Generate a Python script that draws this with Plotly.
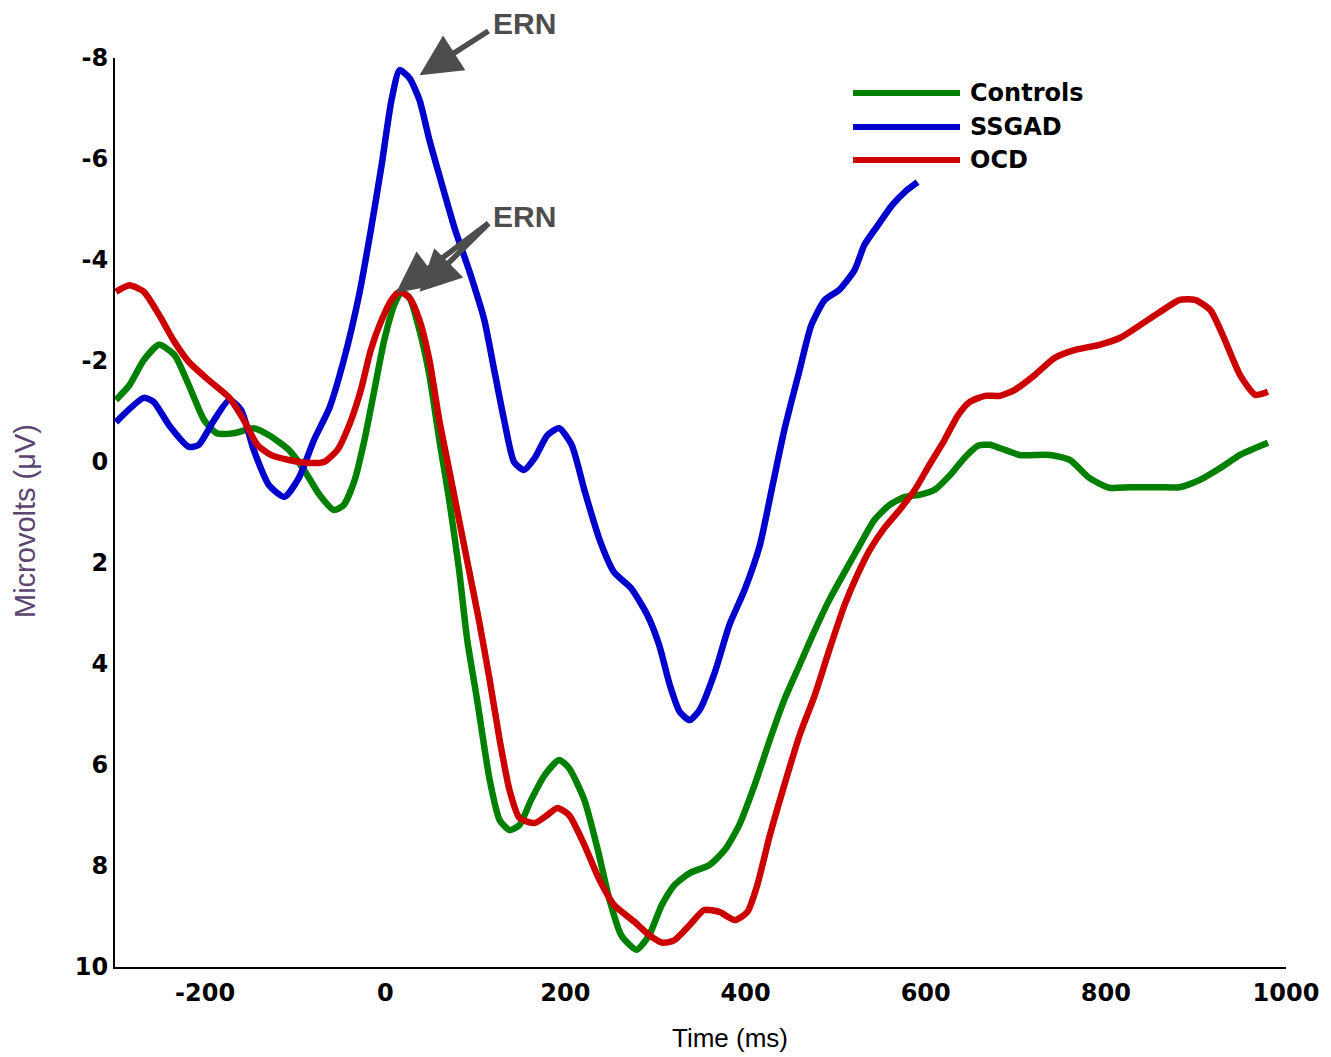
import plotly.graph_objects as go

# ---- data ----
series_names = ["Controls", "SSGAD", "OCD"]
series_colors = ["#008000", "#0000CC", "#CC0000"]

controls_t = [-299, -284, -268, -251, -234, -218, -201, -187, -168, -146, -129, -107, -90, -73, -57, -46, -34, -23, -12, -1, 10, 18, 27, 38, 49, 60, 71, 82, 91, 102, 116, 127, 138, 149, 162, 177, 193, 204, 221, 236, 249, 262, 279, 293, 307, 321, 338, 360, 377, 393, 410, 427, 443, 460, 477, 493, 510, 527, 543, 560, 577, 593, 610, 627, 643, 658, 671, 688, 704, 738, 760, 782, 804, 827, 860, 882, 904, 927, 949, 980]
controls_v = [-1.23, -1.52, -2.02, -2.32, -2.12, -1.52, -0.83, -0.57, -0.57, -0.67, -0.53, -0.24, 0.16, 0.65, 0.95, 0.85, 0.36, -0.44, -1.43, -2.42, -3.11, -3.37, -3.25, -2.61, -1.72, -0.44, 0.75, 2.14, 3.52, 4.71, 6.30, 7.09, 7.29, 7.19, 6.69, 6.20, 5.90, 6.06, 6.69, 7.68, 8.67, 9.37, 9.66, 9.37, 8.77, 8.38, 8.14, 7.98, 7.68, 7.19, 6.40, 5.50, 4.71, 4.02, 3.33, 2.73, 2.18, 1.64, 1.15, 0.85, 0.69, 0.65, 0.55, 0.26, -0.08, -0.32, -0.34, -0.24, -0.14, -0.14, -0.04, 0.32, 0.51, 0.50, 0.50, 0.50, 0.36, 0.12, -0.14, -0.38]

ssgad_t = [-299, -268, -257, -240, -218, -207, -190, -173, -160, -146, -129, -112, -96, -79, -62, -46, -29, -16, -4, 7, 16, 27, 38, 49, 60, 77, 93, 110, 121, 132, 143, 154, 166, 180, 193, 207, 221, 238, 254, 273, 291, 304, 316, 327, 338, 349, 366, 382, 399, 416, 429, 443, 460, 473, 488, 504, 521, 532, 547, 563, 577, 591]
ssgad_v = [-0.79, -1.27, -1.19, -0.73, -0.30, -0.34, -0.83, -1.23, -1.03, -0.24, 0.46, 0.69, 0.32, -0.44, -1.07, -2.02, -3.31, -4.59, -5.88, -7.17, -7.76, -7.60, -7.17, -6.38, -5.68, -4.63, -3.80, -2.81, -1.82, -0.83, 0.00, 0.16, -0.08, -0.53, -0.67, -0.34, 0.55, 1.54, 2.18, 2.50, 3.03, 3.62, 4.42, 4.95, 5.11, 4.91, 4.16, 3.23, 2.53, 1.64, 0.55, -0.63, -1.82, -2.71, -3.21, -3.41, -3.80, -4.30, -4.69, -5.09, -5.35, -5.54]

ocd_t = [-299, -284, -268, -251, -234, -218, -196, -173, -157, -142, -127, -107, -84, -68, -53, -40, -27, -16, -4, 7, 16, 27, 38, 49, 60, 71, 82, 93, 104, 116, 127, 138, 149, 166, 180, 191, 204, 221, 238, 254, 277, 293, 308, 321, 338, 354, 371, 388, 402, 413, 427, 443, 460, 477, 493, 510, 524, 538, 554, 571, 588, 604, 621, 636, 649, 666, 682, 699, 721, 743, 766, 793, 816, 838, 860, 882, 899, 916, 932, 949, 966, 980]
ocd_v = [-3.37, -3.50, -3.37, -2.91, -2.38, -1.98, -1.62, -1.27, -0.83, -0.34, -0.14, -0.04, 0.02, 0.00, -0.24, -0.73, -1.43, -2.22, -2.81, -3.21, -3.37, -3.25, -2.81, -2.02, -0.83, 0.16, 1.15, 2.14, 3.13, 4.32, 5.50, 6.50, 7.05, 7.15, 6.99, 6.85, 6.99, 7.58, 8.28, 8.77, 9.11, 9.37, 9.52, 9.47, 9.17, 8.87, 8.91, 9.07, 8.91, 8.38, 7.39, 6.40, 5.41, 4.61, 3.72, 2.83, 2.24, 1.74, 1.31, 0.95, 0.55, 0.06, -0.44, -0.93, -1.19, -1.31, -1.31, -1.43, -1.72, -2.06, -2.22, -2.32, -2.46, -2.71, -2.97, -3.21, -3.21, -3.01, -2.42, -1.72, -1.33, -1.39]

x_ticks = [-200, 0, 200, 400, 600, 800, 1000]
y_ticks = [-8, -6, -4, -2, 0, 2, 4, 6, 8, 10]

# ERN arrow targets (time, amplitude)
ern_targets = [(38, -7.66), (12, -3.35), (38, -3.37)]

fig = go.Figure()
for name, color, t, v in [
    (series_names[0], series_colors[0], controls_t, controls_v),
    (series_names[1], series_colors[1], ssgad_t, ssgad_v),
    (series_names[2], series_colors[2], ocd_t, ocd_v),
]:
    fig.add_trace(go.Scatter(x=t, y=v, mode="lines", name=name,
                             line=dict(color=color, width=6.5, shape="spline", smoothing=0.6),
                             showlegend=False))

tick_font = dict(family="DejaVu Sans", size=24, color="black", weight="bold")

# page body has an 8px margin: figure is sized/shifted to compensate
fig.update_layout(
    width=1323, height=1049,
    margin=dict(l=107, r=45, t=50, b=90),
    paper_bgcolor="white", plot_bgcolor="white",
    xaxis=dict(range=[-300, 1000], tickvals=x_ticks, ticktext=[str(v) for v in x_ticks],
               showgrid=False, zeroline=False, showline=True, linecolor="black", linewidth=2,
               ticks="", tickfont=tick_font, ticklabelstandoff=3),
    yaxis=dict(range=[10, -8], tickvals=y_ticks, ticktext=[str(v) for v in y_ticks],
               showgrid=False, zeroline=False, showline=True, linecolor="black", linewidth=2,
               ticks="", tickfont=tick_font, ticklabelstandoff=0),
)

# axis titles
fig.add_annotation(text="Time (ms)", xref="paper", yref="paper", x=(730 - 115) / 1171, y=-(1038 - 967) / 909,
                   showarrow=False, font=dict(family="Liberation Sans", size=26, color="black"),
                   xanchor="center", yanchor="middle")
fig.add_annotation(text="Microvolts (μV)", xref="paper", yref="paper", x=-(115 - 25) / 1171, y=(967 - 521) / 909,
                   showarrow=False, textangle=-90, font=dict(family="Liberation Sans", size=29, color="#5c4470"),
                   xanchor="center", yanchor="middle")

# ERN labels
ern_font = dict(family="Liberation Sans", size=30, color="#4d4d4d", weight="bold")
fig.add_annotation(text="ERN", xref="paper", yref="paper", x=(491 - 115) / 1171, y=(967 - 24) / 909,
                   showarrow=False, font=ern_font, xanchor="left", yanchor="middle")
fig.add_annotation(text="ERN", xref="paper", yref="paper", x=(491 - 115) / 1171, y=(967 - 216) / 909,
                   showarrow=False, font=ern_font, xanchor="left", yanchor="middle")
# arrows: tails near the labels
tails = [(490, 30), (490, 222), (490, 222)]
px_per_ms = 1171 / 1300
px_per_uv = 909 / 18
for (tx, tv), (px, py) in zip(ern_targets, tails):
    tip_px = 115 + (tx + 300) * px_per_ms
    tip_py = 58 + (tv + 8) * px_per_uv
    fig.add_annotation(x=tx, y=tv, xref="x", yref="y", text="", showarrow=True,
                       ax=px - tip_px, ay=py - tip_py, arrowhead=2, arrowsize=1.5,
                       arrowwidth=5.5, arrowcolor="#4d4d4d", standoff=0, startstandoff=0)

# manual legend
legend_rows = [93, 127, 160]
for name, color, row in zip(series_names, series_colors, legend_rows):
    yp = (967 - row) / 909
    fig.add_shape(type="line", xref="paper", yref="paper",
                  x0=(853 - 115) / 1171, x1=(960 - 115) / 1171, y0=yp, y1=yp,
                  line=dict(color=color, width=6))
    fig.add_annotation(text=name, xref="paper", yref="paper", x=(968 - 115) / 1171, y=yp,
                       showarrow=False, xanchor="left", yanchor="middle",
                       font=dict(family="DejaVu Sans", size=24, color="black", weight="bold"))

fig.write_html("out.html")
